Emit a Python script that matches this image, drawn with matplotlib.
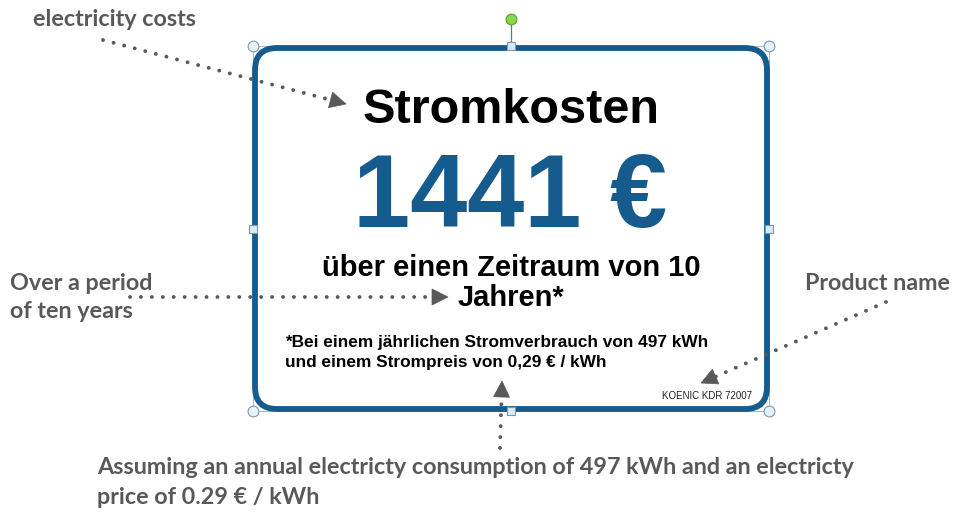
import matplotlib
matplotlib.use("Agg")
import matplotlib.pyplot as plt
from matplotlib.patches import FancyBboxPatch, Polygon

# ---- content ----
title_text = "Stromkosten"
cost_value = 1441
cost_unit = "€"
period_lines = ["über einen Zeitraum von 10", "Jahren*"]
footnote_lines = ["*Bei einem jährlichen Stromverbrauch von 497 kWh",
                  "und einem Strompreis von 0,29 € / kWh"]
product_name = "KOENIC KDR 72007"
annot_costs = "electricity costs"
annot_period = ["Over a period", "of ten years"]
annot_product = "Product name"
annot_assume = ["Assuming an annual electricty consumption of 497 kWh and an electricty",
                "price of 0.29 € / kWh"]

BLUE = "#165b8e"
GRAY = "#595959"
LBL_FONT = "Liberation Sans"
ANN_FONT = "Lato"
ANN_SIZE = 16.8

fig = plt.figure(figsize=(9.55, 5.12), dpi=100)
ax = fig.add_axes([0, 0, 1, 1])
ax.set_xlim(0, 955)
ax.set_ylim(512, 0)
ax.axis("off")

# label box
x0, y0, x1, y1 = 255, 48, 767, 409
box = FancyBboxPatch((x0, y0), x1 - x0, y1 - y0,
                     boxstyle="round,pad=0,rounding_size=22",
                     facecolor="white", edgecolor=BLUE, linewidth=4.2, zorder=2)
ax.add_patch(box)

# selection frame handles
hx0, hy0, hx1, hy1 = 253, 46, 769, 411
ax.plot([hx0, hx1, hx1, hx0, hx0], [hy0, hy0, hy1, hy1, hy0], color="#9aaebc", lw=0.6, zorder=1)
ax.plot([511, 511], [19, 46], color="#5b7890", lw=0.9, zorder=3)
ax.scatter([hx0, hx1, hx0, hx1], [hy0, hy0, hy1, hy1], s=60, facecolor="#e4f2fa",
           edgecolor="#7f98ac", linewidth=0.8, zorder=5)
ax.scatter([511, hx0, hx1, 511], [hy0, 229, 229, hy1], s=36, marker="s",
           facecolor="#d6eaf8", edgecolor="#7f98ac", linewidth=0.8, zorder=5)
ax.scatter([511], [19], s=60, facecolor="#86d84c", edgecolor="#5a9e32", linewidth=0.8, zorder=5)

# label texts
ax.text(511, 123, title_text, ha="center", va="baseline", fontsize=35,
        fontweight="bold", family=LBL_FONT, color="black", zorder=4)
ax.text(510, 227, f"{cost_value} {cost_unit}", ha="center", va="baseline", fontsize=74,
        fontweight="bold", family=LBL_FONT, color=BLUE, zorder=4)
ax.text(511, 268, period_lines[0], ha="center", va="center", fontsize=21,
        fontweight="bold", family=LBL_FONT, color="black", zorder=4)
ax.text(511, 298, period_lines[1], ha="center", va="center", fontsize=21,
        fontweight="bold", family=LBL_FONT, color="black", zorder=4)
ax.text(285, 342, footnote_lines[0], ha="left", va="center", fontsize=12.4,
        fontweight="bold", family=LBL_FONT, color="black", zorder=4)
ax.text(285, 362, footnote_lines[1], ha="left", va="center", fontsize=12.4,
        fontweight="bold", family=LBL_FONT, color="black", zorder=4)
ax.text(752, 396, product_name, ha="right", va="center", fontsize=7,
        family=LBL_FONT, color="#222222", zorder=4)

# annotation texts
ax.text(33, 19, annot_costs, ha="left", va="center", fontsize=ANN_SIZE,
        fontweight="bold", family=ANN_FONT, color=GRAY)
ax.text(10, 283, annot_period[0], ha="left", va="center", fontsize=ANN_SIZE,
        fontweight="bold", family=ANN_FONT, color=GRAY)
ax.text(10, 312, annot_period[1], ha="left", va="center", fontsize=ANN_SIZE,
        fontweight="bold", family=ANN_FONT, color=GRAY)
ax.text(805, 284, annot_product, ha="left", va="center", fontsize=ANN_SIZE,
        fontweight="bold", family=ANN_FONT, color=GRAY)
ax.text(97, 468, annot_assume[0], ha="left", va="center", fontsize=ANN_SIZE,
        fontweight="bold", family=ANN_FONT, color=GRAY)
ax.text(97, 497, annot_assume[1], ha="left", va="center", fontsize=ANN_SIZE,
        fontweight="bold", family=ANN_FONT, color=GRAY)


def dotted_arrow(xs, ys, xe, ye, head=16, width=16):
    import math
    dx, dy = xe - xs, ye - ys
    L = math.hypot(dx, dy)
    ux, uy = dx / L, dy / L
    bx, by = xe - ux * head, ye - uy * head
    ax.plot([xs, bx], [ys, by], color=GRAY, lw=2.8, linestyle=(0, (0.01, 2.8)),
            dash_capstyle="round", zorder=6)
    px, py = -uy, ux
    tri = [(xe, ye), (bx + px * width / 2, by + py * width / 2),
           (bx - px * width / 2, by - py * width / 2)]
    ax.add_patch(Polygon(tri, closed=True, facecolor=GRAY, edgecolor=GRAY, lw=0.5, zorder=6))


dotted_arrow(103, 40, 346, 104)
dotted_arrow(130, 297, 448, 297)
dotted_arrow(886, 302, 701, 383)
dotted_arrow(500, 448, 502, 381)

fig.savefig("out.png", dpi=100)
